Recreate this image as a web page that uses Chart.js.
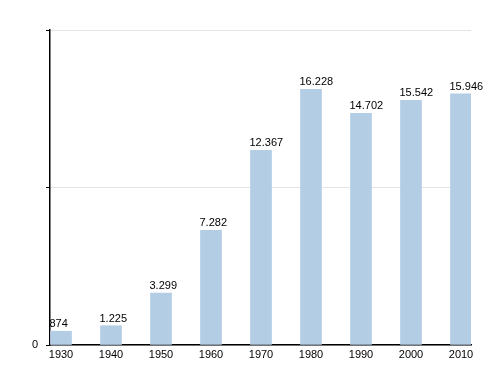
<!DOCTYPE html>
<html>
<head>
<meta charset="utf-8">
<script src="https://cdn.jsdelivr.net/npm/chart.js@4/dist/chart.umd.min.js"></script>
<style>
html,body{margin:0;padding:0;background:#fff;}
#wrap{width:500px;height:375px;position:relative;}
</style>
</head>
<body>
<div id="wrap"><canvas id="c" width="500" height="375"></canvas></div>
<script>
const years = [1930, 1940, 1950, 1960, 1970, 1980, 1990, 2000, 2010];
const population = [874, 1225, 3299, 7282, 12367, 16228, 14702, 15542, 15946];
const yTickLabels = {0: '0'};

const fontFamily = '"Liberation Sans", Arial, sans-serif';

const labelPlugin = {
  id: 'barLabels',
  afterDatasetsDraw(chart) {
    const ctx = chart.ctx;
    const meta = chart.getDatasetMeta(0);
    ctx.save();
    ctx.font = '11px ' + fontFamily;
    ctx.fillStyle = '#000';
    ctx.textAlign = 'left';
    ctx.textBaseline = 'alphabetic';
    meta.data.forEach((bar, i) => {
      const txt = population[i].toLocaleString('de-DE');
      ctx.fillText(txt, bar.x - bar.width / 2 - 1, bar.y - 4);
    });
    ctx.restore();
  }
};

new Chart(document.getElementById('c'), {
  type: 'bar',
  data: {
    datasets: [{
      data: years.map((y, i) => ({x: y, y: population[i]})),
      backgroundColor: '#b3cde5',
      borderWidth: 0,
      barThickness: 21
    }]
  },
  options: {
    responsive: false,
    animation: false,
    devicePixelRatio: 1,
    layout: {padding: {top: 30, right: 29, bottom: 8, left: 0}},
    plugins: {legend: {display: false}, tooltip: {enabled: false}},
    scales: {
      x: {
        type: 'linear',
        offset: false,
        min: 1927.8,
        max: 2012,
        afterBuildTicks(scale) { scale.ticks = years.map(v => ({value: v})); },
        afterFit(scale) { scale.height = 22; },
        grid: {display: false, drawTicks: false, offset: false},
        border: {color: '#000', width: 1.5},
        ticks: {
          color: '#000',
          font: {family: fontFamily, size: 11},
          padding: 3,
          maxRotation: 0,
          autoSkip: false,
          callback: v => String(v)
        }
      },
      y: {
        min: 0,
        max: 20000,
        afterFit(scale) { scale.width = 50; },
        afterBuildTicks(scale) { scale.ticks = [0, 10000, 20000].map(v => ({value: v})); },
        grid: {
          color: '#e4e4e4',
          lineWidth: 1,
          tickColor: '#000',
          tickLength: 4,
          drawOnChartArea: true
        },
        border: {color: '#000', width: 1.5},
        ticks: {
          color: '#000',
          font: {family: fontFamily, size: 11},
          padding: 8,
          callback: v => (yTickLabels[v] !== undefined ? yTickLabels[v] : '')
        }
      }
    }
  },
  plugins: [labelPlugin]
});
</script>
</body>
</html>
